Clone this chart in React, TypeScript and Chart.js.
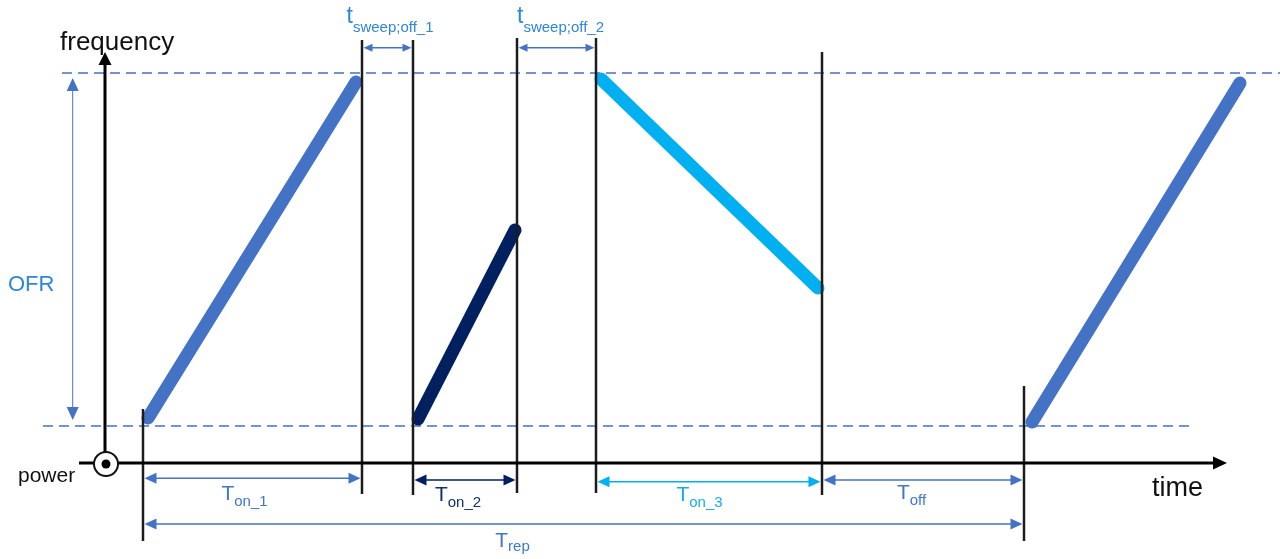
import { useEffect, useRef } from "react";
import { Chart, registerables } from "chart.js";

Chart.register(...registerables);

// ---------- DATA (time units / frequency units) ----------
const SWEEP_NAMES = ["sweep 1", "sweep 2", "sweep 3", "sweep 1 (next period)"];
const SWEEP_T_START = [4.3, 31.3, 49.6, 92.7];
const SWEEP_T_END = [25.1, 41.0, 71.3, 113.5];
const SWEEP_F_START = [4.5, 4.4, 38.4, 4.1];
const SWEEP_F_END = [38.1, 23.3, 17.5, 38.0];

const F_MIN = 3.7; // lower bound of the operating frequency range
const F_MAX = 39.0; // upper bound of the operating frequency range
const F_RANGE_T_FROM = [-6.2, -4.3];
const F_RANGE_T_TO = [108.8, 117.5];

const MARKER_T = [3.8, 25.7, 30.8, 41.2, 49.1, 71.7, 91.9];
const MARKER_F_TOP = [5.4, 42.3, 42.3, 42.5, 42.5, 41.1, 7.7];
const MARKER_F_BOTTOM = [-7.8, -3.1, -3.2, -3.0, -3.0, -3.2, -7.8];

const DIM_MAIN = ["t", "t", "T", "T", "T", "T", "T"];
const DIM_SUB = ["sweep;off_1", "sweep;off_2", "on_1", "on_2", "on_3", "off", "rep"];
const DIM_T_FROM = [25.7, 41.2, 3.8, 30.8, 49.1, 71.7, 3.8];
const DIM_T_TO = [30.8, 49.1, 25.7, 41.2, 71.7, 91.9, 91.9];
const DIM_F = [41.53, 41.53, -1.53, -1.7, -1.87, -1.7, -6.1];

const AXIS_TIME_LABEL = "time";
const AXIS_FREQ_LABEL = "frequency";
const AXIS_POWER_LABEL = "power";
const RANGE_LABEL = "OFR";

// ---------- LAYOUT & STYLE ----------
const X_MIN = -10.5;
const X_MAX = 117.5;
const Y_MIN = -9.6;
const Y_MAX = 46.3;

const BLUE = "#4472C4";
const NAVY = "#002060";
const CYAN = "#00B0F0";
const SWEEP_COLORS = [BLUE, NAVY, CYAN, BLUE];
const DIM_LINE_COLORS = [BLUE, BLUE, BLUE, NAVY, CYAN, BLUE, BLUE];
const DIM_TEXT_COLORS = ["#2F86DA", "#2F86DA", "#3C78D0", "#12306E", "#16ACEA", "#3C78D0", "#3C78D0"];
// label placement: center (time units), baseline (frequency units), subscript drop (px)
const DIM_LABEL_T = [28.5, 45.55, 13.95, 35.3, 59.45, 80.65, 40.75];
const DIM_LABEL_F = [44.0, 44.0, -3.7, -3.75, -3.75, -3.6, -8.4];
const DIM_MAIN_SIZE = [23, 23, 21, 21, 21, 21, 21];
const DIM_SUB_DROP = [9, 9, 6, 6, 6, 6, 4];
const DIM_HEAD = [
  [9, 4],
  [9, 4],
  [12, 5.5],
  [12, 5.5],
  [12, 5.5],
  [12, 5.5],
  [12, 5.5],
];

const FONT = "'Liberation Sans', Arial, sans-serif";

type Ctx = CanvasRenderingContext2D;

function head(ctx: Ctx, tx: number, ty: number, dx: number, dy: number, len: number, half: number) {
  const bx = tx - dx * len;
  const by = ty - dy * len;
  const nx = -dy;
  const ny = dx;
  ctx.beginPath();
  ctx.moveTo(tx, ty);
  ctx.lineTo(bx + nx * half, by + ny * half);
  ctx.lineTo(bx - nx * half, by - ny * half);
  ctx.closePath();
  ctx.fill();
}

function subText(
  ctx: Ctx,
  main: string,
  sub: string,
  cx: number,
  baseline: number,
  mainSize: number,
  subSize: number,
  drop: number,
  color: string
) {
  ctx.fillStyle = color;
  ctx.textBaseline = "alphabetic";
  ctx.textAlign = "left";
  ctx.font = `${mainSize}px ${FONT}`;
  const w1 = ctx.measureText(main).width;
  ctx.font = `${subSize}px ${FONT}`;
  const w2 = ctx.measureText(sub).width;
  const left = cx - (w1 + w2) / 2;
  ctx.font = `${mainSize}px ${FONT}`;
  ctx.fillText(main, left, baseline);
  ctx.font = `${subSize}px ${FONT}`;
  ctx.fillText(sub, left + w1, baseline + drop);
}

const annotations = {
  id: "annotations",
  afterDatasetsDraw(chart: any) {
    const ctx: Ctx = chart.ctx;
    const xs = chart.scales.x;
    const ys = chart.scales.y;
    const X = (t: number) => xs.getPixelForValue(t);
    const Y = (f: number) => ys.getPixelForValue(f);
    ctx.save();

    // frequency axis (vertical) with arrow
    const ax0 = X(0);
    const ay0 = Y(0);
    ctx.strokeStyle = "#000";
    ctx.fillStyle = "#000";
    ctx.lineWidth = 3;
    const fTip = Y(41.1);
    ctx.beginPath();
    ctx.moveTo(ax0, ay0);
    ctx.lineTo(ax0, fTip + 10);
    ctx.stroke();
    head(ctx, ax0, fTip, 0, -1, 13, 6.5);

    // time axis (horizontal) with arrow
    const tTip = X(112.2);
    ctx.beginPath();
    ctx.moveTo(X(-2.6), ay0);
    ctx.lineTo(tTip - 10, ay0);
    ctx.stroke();
    head(ctx, tTip, ay0, 1, 0, 14, 6.5);

    // power symbol (out of plane)
    ctx.beginPath();
    ctx.arc(ax0 + 1, ay0 + 1, 12, 0, Math.PI * 2);
    ctx.fillStyle = "#fff";
    ctx.fill();
    ctx.lineWidth = 2;
    ctx.strokeStyle = "#111";
    ctx.stroke();
    ctx.beginPath();
    ctx.arc(ax0 + 1, ay0 + 1, 4.5, 0, Math.PI * 2);
    ctx.fillStyle = "#000";
    ctx.fill();

    // OFR range arrow
    const ox = X(-3.23);
    const oTop = Y(F_MAX - 0.5);
    const oBot = Y(F_MIN + 0.6);
    ctx.strokeStyle = BLUE;
    ctx.fillStyle = BLUE;
    ctx.lineWidth = 1;
    ctx.beginPath();
    ctx.moveTo(ox, oTop + 6);
    ctx.lineTo(ox, oBot - 6);
    ctx.stroke();
    head(ctx, ox, oTop, 0, -1, 13, 6);
    head(ctx, ox, oBot, 0, 1, 13, 6);

    // dimension arrows
    for (let i = 0; i < DIM_MAIN.length; i++) {
      const x1 = X(DIM_T_FROM[i]) + 1.5;
      const x2 = X(DIM_T_TO[i]) - 1.5;
      const y = Y(DIM_F[i]);
      const [len, half] = DIM_HEAD[i];
      ctx.strokeStyle = DIM_LINE_COLORS[i];
      ctx.fillStyle = DIM_LINE_COLORS[i];
      ctx.lineWidth = 1.6;
      ctx.beginPath();
      ctx.moveTo(x1 + 4, y);
      ctx.lineTo(x2 - 4, y);
      ctx.stroke();
      head(ctx, x1, y, -1, 0, len, half);
      head(ctx, x2, y, 1, 0, len, half);
      subText(
        ctx,
        DIM_MAIN[i],
        DIM_SUB[i],
        X(DIM_LABEL_T[i]),
        Y(DIM_LABEL_F[i]),
        DIM_MAIN_SIZE[i],
        15,
        DIM_SUB_DROP[i],
        DIM_TEXT_COLORS[i]
      );
    }

    // axis labels
    ctx.textAlign = "left";
    ctx.textBaseline = "alphabetic";
    ctx.fillStyle = "#111";
    ctx.font = `26px ${FONT}`;
    ctx.fillText(AXIS_FREQ_LABEL, X(-4.5), Y(41.3));
    ctx.font = `27px ${FONT}`;
    ctx.fillText(AXIS_TIME_LABEL, X(104.7), Y(-3.3));
    ctx.font = `21px ${FONT}`;
    ctx.fillText(AXIS_POWER_LABEL, X(-8.7), Y(-1.9));
    ctx.fillStyle = "#2F86DA";
    ctx.font = `22px ${FONT}`;
    ctx.fillText(RANGE_LABEL, X(-9.7), Y(17.2));

    ctx.restore();
  },
};

export default function App() {
  const ref = useRef<HTMLCanvasElement>(null);

  useEffect(() => {
    const datasets: any[] = [];

    // frequency sweeps (drawn on top: first in list)
    SWEEP_NAMES.forEach((name, i) => {
      datasets.push({
        label: name,
        data: [
          { x: SWEEP_T_START[i], y: SWEEP_F_START[i] },
          { x: SWEEP_T_END[i], y: SWEEP_F_END[i] },
        ],
        borderColor: SWEEP_COLORS[i],
        borderWidth: 13,
        borderCapStyle: "round",
        showLine: true,
        pointRadius: 0,
        clip: false,
      });
    });

    // time markers
    MARKER_T.forEach((t, i) => {
      datasets.unshift({
        label: `marker ${i + 1}`,
        data: [
          { x: t, y: MARKER_F_BOTTOM[i] },
          { x: t, y: MARKER_F_TOP[i] },
        ],
        borderColor: "#1c1c1c",
        borderWidth: 2.5,
        showLine: true,
        pointRadius: 0,
        clip: false,
      });
    });

    // frequency range limits (dashed)
    [F_MIN, F_MAX].forEach((f, i) => {
      datasets.push({
        label: i === 0 ? "f min" : "f max",
        data: [
          { x: F_RANGE_T_FROM[i], y: f },
          { x: F_RANGE_T_TO[i], y: f },
        ],
        borderColor: BLUE,
        borderWidth: 1.5,
        borderDash: [10, 6],
        showLine: true,
        pointRadius: 0,
        clip: false,
      });
    });

    const chart = new Chart(ref.current as HTMLCanvasElement, {
      type: "scatter",
      data: { datasets },
      options: {
        responsive: false,
        animation: false,
        events: [],
        layout: { padding: 0 },
        scales: {
          x: { type: "linear", min: X_MIN, max: X_MAX, display: false },
          y: { type: "linear", min: Y_MIN, max: Y_MAX, display: false },
        },
        plugins: {
          legend: { display: false },
          tooltip: { enabled: false },
        },
      },
      plugins: [annotations],
    } as any);

    return () => chart.destroy();
  }, []);

  return (
    <div
      style={{
        position: "fixed",
        left: 0,
        top: 0,
        width: 1280,
        height: 559,
        background: "#fff",
      }}
    >
      <canvas ref={ref} width={1280} height={559} style={{ display: "block" }} />
    </div>
  );
}
